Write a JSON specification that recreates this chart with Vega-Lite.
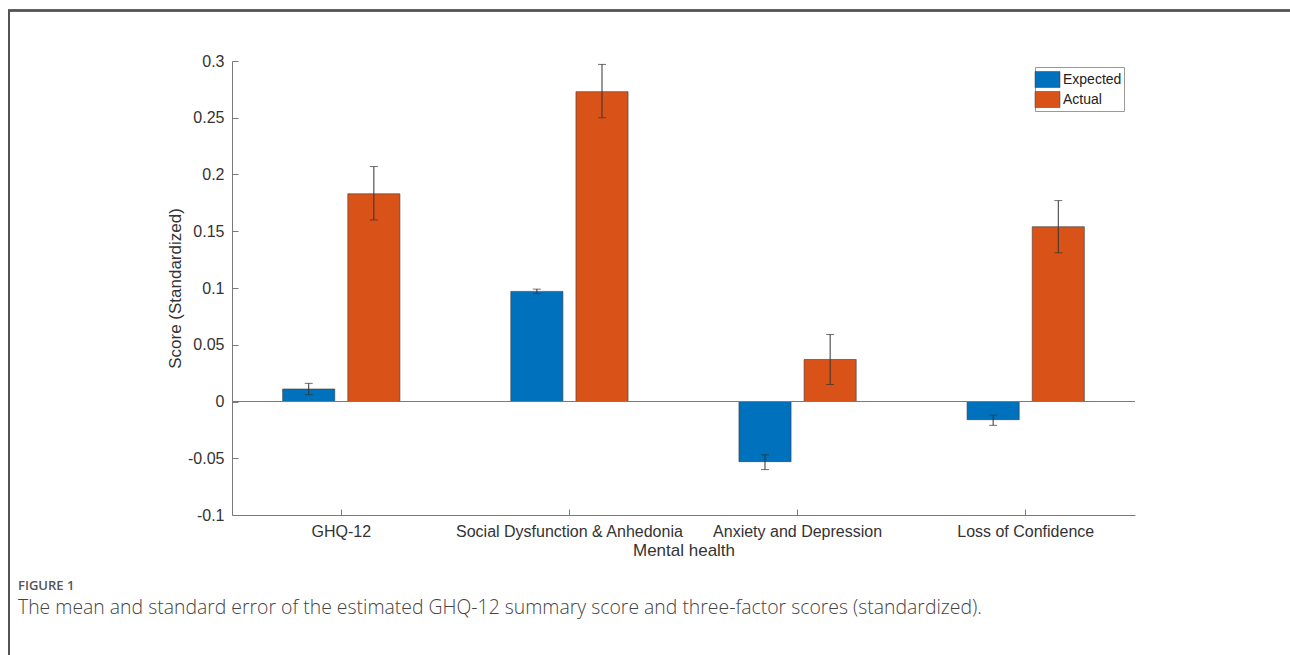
{
  "$schema": "https://vega.github.io/schema/vega-lite/v6.json",
  "width": 903,
  "height": 454,
  "autosize": {"type": "none"},
  "padding": {"left": 232, "top": 61, "right": 155, "bottom": 140},
  "background": "white",
  "config": {
    "view": {"stroke": null},
    "font": "Liberation Sans",
    "axis": {
      "grid": false,
      "domainColor": "#7a7a7a",
      "tickColor": "#7a7a7a",
      "labelColor": "#333333",
      "titleColor": "#333333",
      "labelFont": "Liberation Sans",
      "titleFont": "Liberation Sans",
      "labelFontSize": 16,
      "titleFontSize": 17,
      "titleFontWeight": "normal",
      "labelLimit": 0
    }
  },
  "title": {
    "text": "FIGURE 1",
    "subtitle": "The mean and standard error of the estimated GHQ-12 summary score and three-factor scores (standardized).",
    "orient": "bottom",
    "anchor": "start",
    "frame": "group",
    "dx": -214,
    "offset": -79,
    "font": "Open Sans",
    "fontSize": 13,
    "fontWeight": 600,
    "color": "#555555",
    "subtitleFont": "Open Sans",
    "subtitleFontSize": 19.4,
    "subtitleFontWeight": 300,
    "subtitleColor": "#444444",
    "subtitlePadding": 6
  },
  "data": {
    "values": [
      {"category": "GHQ-12", "group": "Expected", "value": 0.011, "lo": 0.006, "hi": 0.016},
      {"category": "GHQ-12", "group": "Actual", "value": 0.183, "lo": 0.160, "hi": 0.207},
      {"category": "Social Dysfunction & Anhedonia", "group": "Expected", "value": 0.097, "lo": 0.095, "hi": 0.099},
      {"category": "Social Dysfunction & Anhedonia", "group": "Actual", "value": 0.273, "lo": 0.250, "hi": 0.297},
      {"category": "Anxiety and Depression", "group": "Expected", "value": -0.053, "lo": -0.060, "hi": -0.047},
      {"category": "Anxiety and Depression", "group": "Actual", "value": 0.037, "lo": 0.015, "hi": 0.059},
      {"category": "Loss of Confidence", "group": "Expected", "value": -0.016, "lo": -0.021, "hi": -0.012},
      {"category": "Loss of Confidence", "group": "Actual", "value": 0.154, "lo": 0.131, "hi": 0.177}
    ]
  },
  "layer": [
    {
      "encoding": {
        "x": {
          "field": "category",
          "type": "nominal",
          "sort": ["GHQ-12", "Social Dysfunction & Anhedonia", "Anxiety and Depression", "Loss of Confidence"],
          "scale": {"paddingInner": 0.486, "paddingOuter": 0.222},
          "title": "Mental health",
          "axis": {"labelAngle": 0, "tickSize": -6, "labelPadding": 14, "titlePadding": 3, "labelFlush": false}
        },
        "xOffset": {
          "field": "group",
          "type": "nominal",
          "sort": ["Expected", "Actual"],
          "scale": {"paddingInner": 0.2, "paddingOuter": 0}
        }
      },
      "layer": [
        {
          "mark": {"type": "bar", "stroke": "#3a3a3a", "strokeWidth": 0.6},
          "encoding": {
            "y": {
              "field": "value",
              "type": "quantitative",
              "scale": {"domain": [-0.1, 0.3], "nice": false, "zero": false},
              "title": "Score (Standardized)",
              "axis": {
                "values": [-0.1, -0.05, 0, 0.05, 0.1, 0.15, 0.2, 0.25, 0.3],
                "labelExpr": "datum.value < 0 ? '-' + format(-datum.value, '~g') : format(datum.value, '~g')",
                "tickSize": -6,
                "labelPadding": 14,
                "titlePadding": 3
              }
            },
            "color": {
              "field": "group",
              "type": "nominal",
              "sort": ["Expected", "Actual"],
              "scale": {"domain": ["Expected", "Actual"], "range": ["#0072BD", "#D95319"]},
              "legend": {
                "title": null,
                "orient": "none",
                "legendX": 803,
                "legendY": 6,
                "symbolType": "M-1.25,-0.8H1.25V0.8H-1.25Z",
                "symbolSize": 400,
                "symbolStrokeColor": "#3a3a3a",
                "symbolStrokeWidth": 0.5,
                "symbolOpacity": 1,
                "labelFont": "Liberation Sans",
                "labelFontSize": 14,
                "labelColor": "#222222",
                "labelOffset": 5,
                "rowPadding": 0,
                "padding": 2,
                "strokeColor": "#999999",
                "fillColor": "white"
              }
            }
          }
        },
        {
          "mark": {"type": "rule", "color": "#7a7a7a", "strokeWidth": 1},
          "encoding": {"y": {"datum": 0, "type": "quantitative"}, "x": null, "xOffset": null}
        },
        {
          "mark": {"type": "rule", "color": "#333333", "strokeWidth": 1},
          "encoding": {
            "y": {"field": "lo", "type": "quantitative"},
            "y2": {"field": "hi"}
          }
        },
        {
          "mark": {"type": "tick", "color": "#333333", "size": 8, "thickness": 1},
          "encoding": {"y": {"field": "lo", "type": "quantitative"}}
        },
        {
          "mark": {"type": "tick", "color": "#333333", "size": 8, "thickness": 1},
          "encoding": {"y": {"field": "hi", "type": "quantitative"}}
        }
      ]
    },
    {
      "mark": {"type": "rect", "fillOpacity": 0, "stroke": "#555555", "strokeWidth": 1.5},
      "encoding": {
        "x": {"datum": -0.247, "type": "quantitative", "scale": {"domain": [0, 1], "nice": false, "zero": false}, "axis": null},
        "x2": {"datum": 1.3},
        "y": {"datum": 0.3445, "type": "quantitative"},
        "y2": {"datum": -0.226}
      }
    }
  ],
  "resolve": {"scale": {"x": "independent"}}
}
